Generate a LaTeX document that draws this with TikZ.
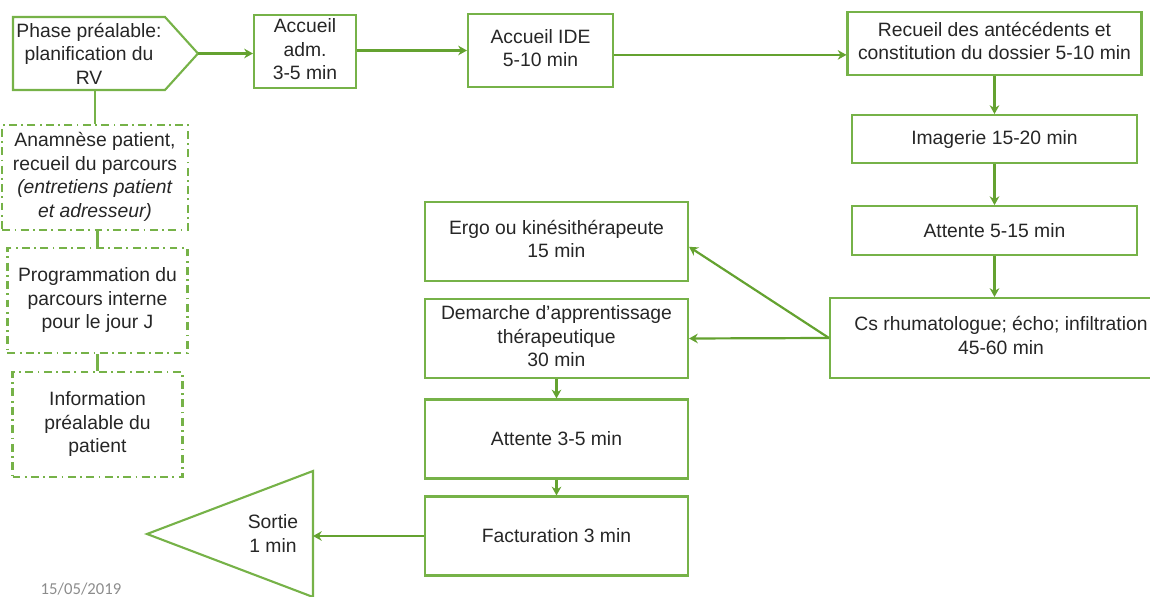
\documentclass[tikz,border=0pt]{standalone}
\usepackage{fontspec}
\setmainfont{Liberation Sans}
\newfontfamily\datefont{Carlito}
\usepackage{xcolor}
\usepackage{tikz}
\usetikzlibrary{arrows.meta}
\usetikzlibrary{positioning}
\definecolor{vert}{RGB}{118,178,72}
\definecolor{vertfonce}{RGB}{100,162,48}

\begin{document}
\begin{tikzpicture}[x=0.02cm, y=-0.02cm,
    every node/.style={font=\fontsize{11}{13.4}\selectfont, text=black!85},
    boite/.style={draw=vert, line width=1.2pt, rectangle, inner sep=0pt,
      minimum width=5.26cm, minimum height=1.58cm},
    pointille/.style={draw=vert, line width=1.2pt, inner sep=0pt,
      dash pattern=on 4.5pt off 2.5pt on 1pt off 2.5pt,
      minimum width=3.4cm, minimum height=2.1cm},
    fleche/.style={draw=vertfonce, line width=1.25pt, -{Stealth[length=5pt, width=5.5pt]}}]

    \useasboundingbox (0,0) rectangle (1150,597);

    % phase prealable
    \node(phase) [minimum width=3.04cm, minimum height=1.46cm, inner sep=0pt] at (89, 56) {
      \begin{tabular}{c}
        Phase préalable: \\
        planification du \\
        RV
      \end{tabular}
    };
    \coordinate (pointe) at (198, 53.5);
    \draw[vert, line width=1.2pt] (13, 17) -- (165, 17) -- (pointe)
      -- (165, 90) -- (13, 90) -- cycle;

    \node(a1) [pointille] at (95, 177.5) {
      \begin{tabular}{c}
        Anamnèse patient, \\
        recueil du parcours \\
        \textit{(entretiens patient} \\
        \textit{et adresseur)}
      \end{tabular}
    };
    \node(a2) [pointille, below = 0.32cm of a1, xshift=0.05cm] {
      \begin{tabular}{c}
        Programmation du \\
        parcours interne \\
        pour le jour J
      \end{tabular}
    };
    \node(a3) [pointille, below = 0.34cm of a2] {
      \begin{tabular}{c}
        Information \\
        préalable du \\
        patient
      \end{tabular}
    };
    \draw[vert, line width=1.2pt] (a1.north) -- (a1.north |- 0, 90);
    \draw[vert, line width=1.2pt] (a1.south -| a2.north) -- (a2.north);
    \draw[vert, line width=1.2pt] (a2.south) -- (a3.north);

    % parcours du jour J
    \node(adm) [boite, minimum width=2.04cm, minimum height=1.46cm] at (305, 51.5) {
      \begin{tabular}{c}
        Accueil \\
        adm. \\
        3-5 min
      \end{tabular}
    };
    \draw[fleche] (pointe) -- (adm.west |- pointe);

    \node(ide) [boite, minimum width=2.9cm, minimum height=1.46cm] at (540.5, 50.5) {
      \begin{tabular}{c}
        Accueil IDE \\
        5-10 min
      \end{tabular}
    };
    \draw[fleche] (adm.east |- ide) -- (ide.west);

    \node(rec) [boite, minimum width=5.7cm, minimum height=1.26cm] at (994.5, 43.5) {
      \begin{tabular}{c}
        Recueil des antécédents et \\
        constitution du dossier 5-10 min
      \end{tabular}
    };
    \draw[fleche] ([yshift=-2.5pt]ide.east) -- ([yshift=-2.5pt]ide.east -| rec.west);

    \node(img) [boite, minimum width=5.7cm, minimum height=0.96cm, below = 0.76cm of rec] {Imagerie 15-20 min};
    \draw[fleche] (rec) -- (img);

    \node(att1) [boite, minimum width=5.7cm, minimum height=0.98cm, below = 0.82cm of img] {Attente 5-15 min};
    \draw[fleche] (img) -- (att1);

    \node(cs) [boite, minimum width=6.84cm, minimum height=1.6cm] at (1001, 338) {
      \begin{tabular}{c}
        Cs rhumatologue; écho; infiltration \\
        45-60 min
      \end{tabular}
    };
    \draw[fleche] (att1.south) -- (att1.south |- cs.north);

    \node(ergo) [boite] at (556.5, 241.5) {
      \begin{tabular}{c}
        Ergo ou kinésithérapeute \\
        15 min
      \end{tabular}
    };
    \node(dem) [boite] at (556.5, 338.5) {
      \begin{tabular}{c}
        Demarche d’apprentissage \\
        thérapeutique \\
        30 min
      \end{tabular}
    };
    \draw[fleche] (cs.west) -- ([yshift=-3pt]ergo.east);
    \draw[fleche] (cs.west) -- (dem.east);

    \node(att2) [boite] at (556.5, 439) {Attente 3-5 min};
    \draw[fleche] (dem) -- (att2);

    \node(fact) [boite] at (556.5, 536) {Facturation 3 min};
    \draw[fleche] (att2) -- (fact);

    % sortie
    \coordinate (sortie) at (313, 534);
    \draw[vert, line width=1.2pt] (313, 471) -- (147, 534) -- (313, 597) -- cycle;
    \node(sortietxt) at (273, 536) {
      \begin{tabular}{c}
        Sortie \\
        1 min
      \end{tabular}
    };
    \draw[fleche] (fact.west) -- (fact.west -| sortie);

    \node(date) [font=\datefont\fontsize{9.5}{11}\selectfont, text=black!45] at (81, 589) {15/05/2019};
  \end{tikzpicture}
\end{document}
